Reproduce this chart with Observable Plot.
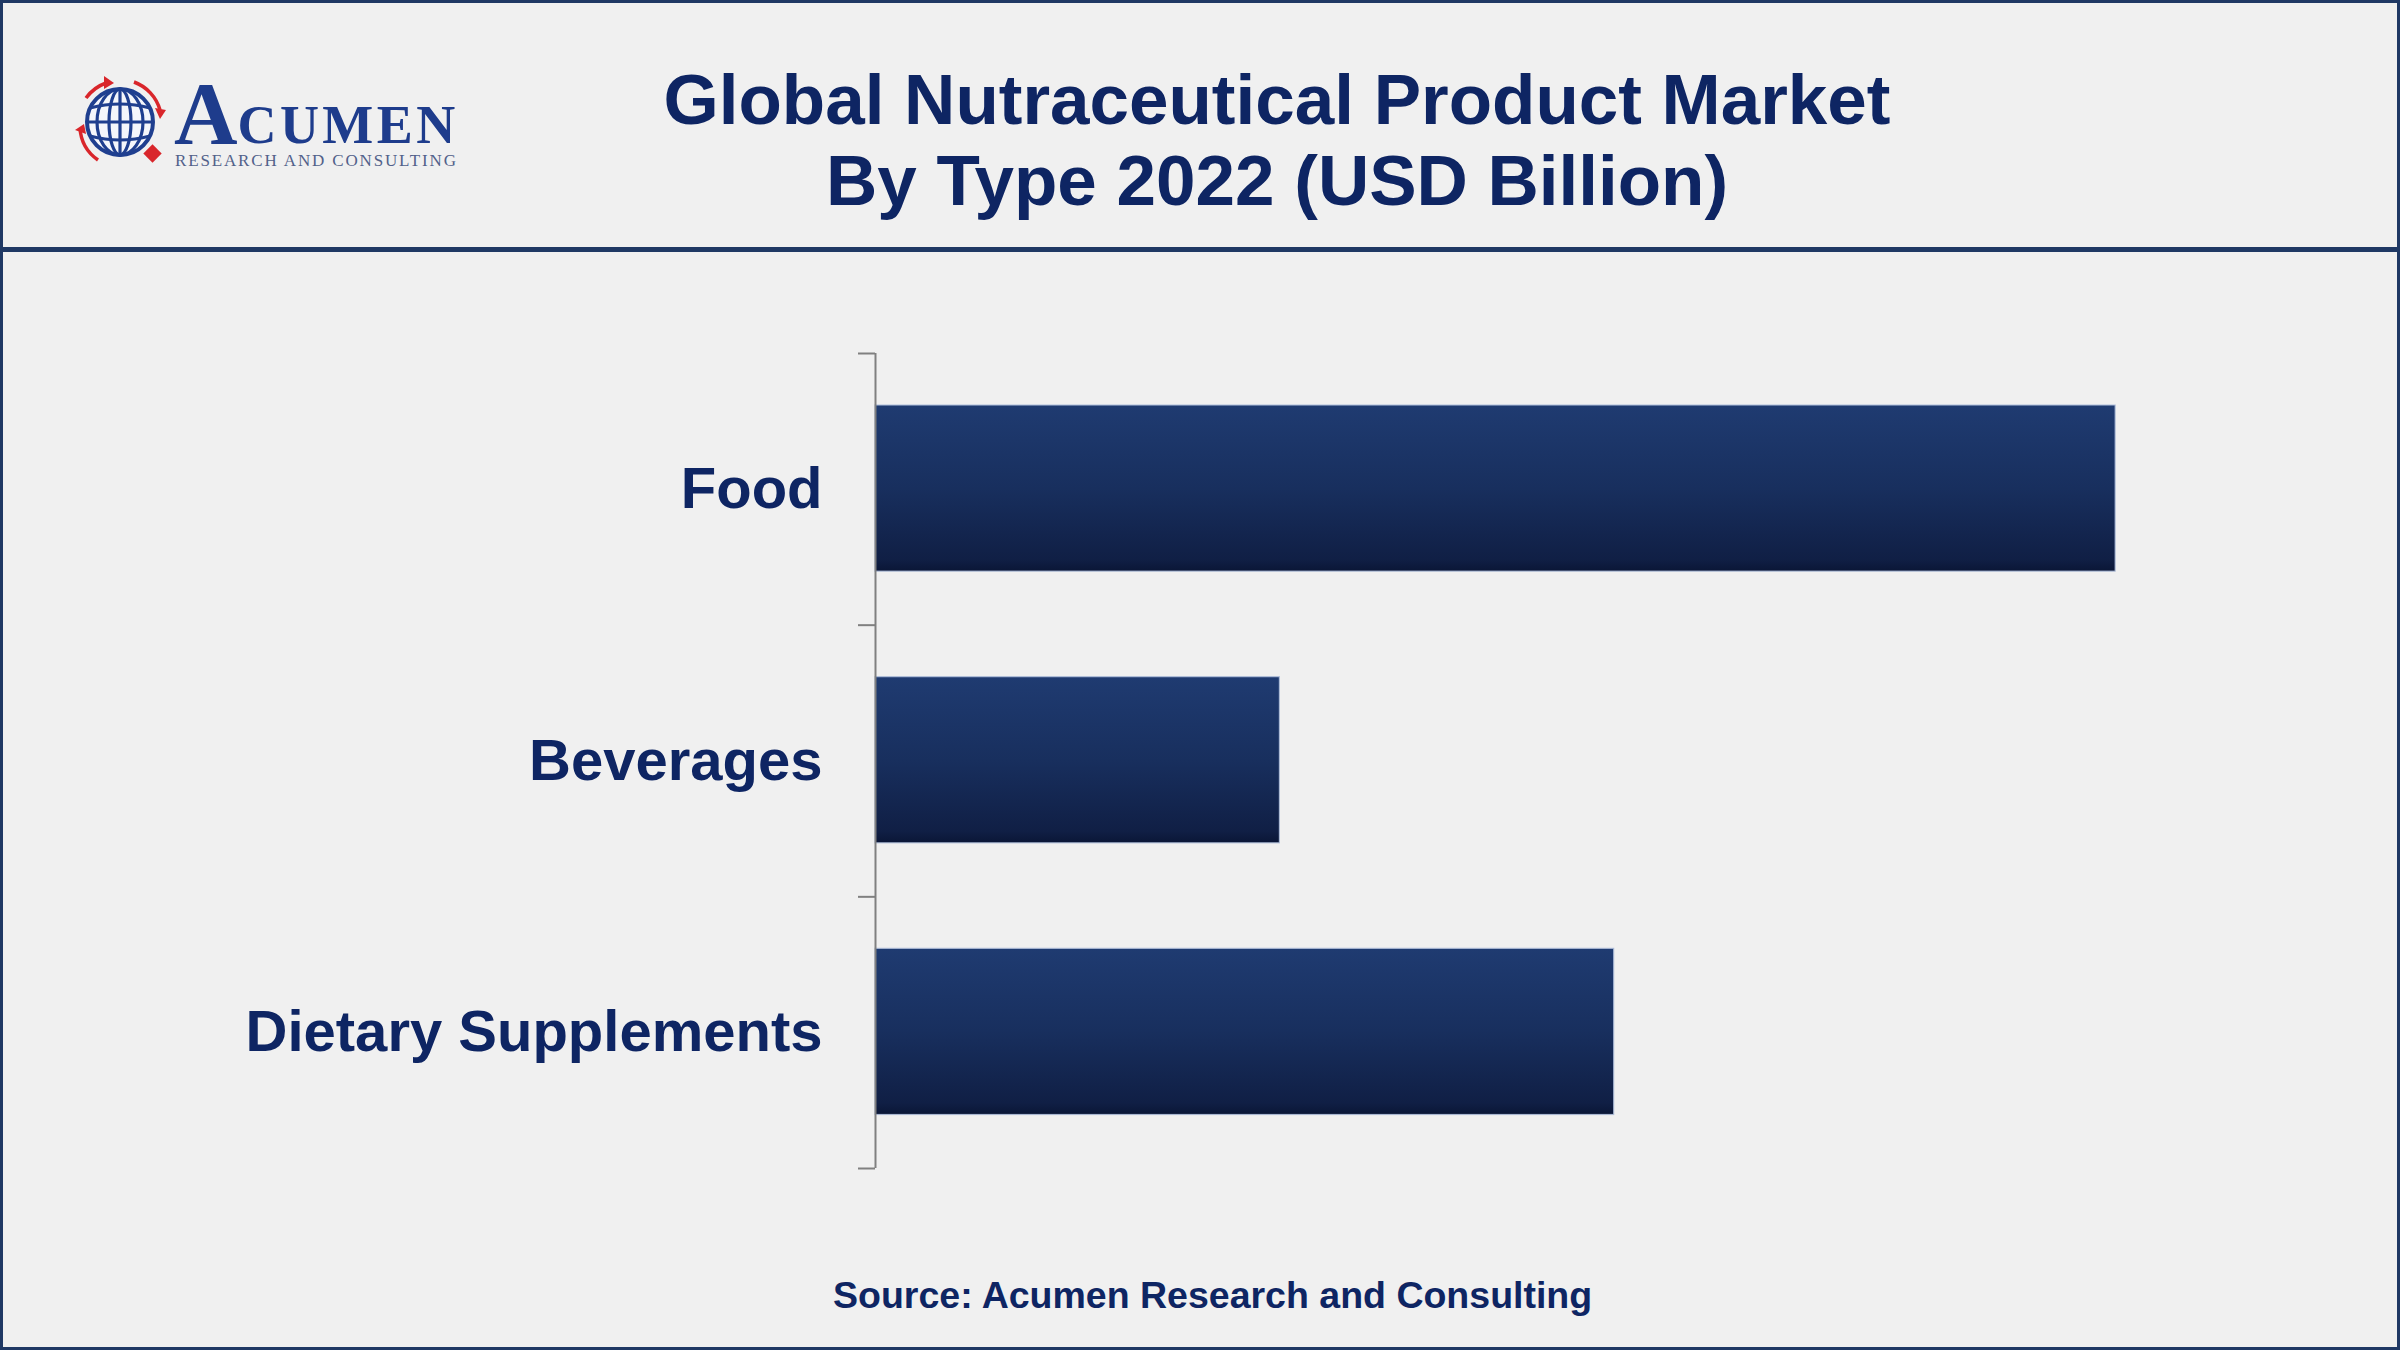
<!DOCTYPE html>
<html>
<head>
<meta charset="utf-8">
<script src="https://cdn.jsdelivr.net/npm/d3@7"></script>
<script src="https://cdn.jsdelivr.net/npm/@observablehq/plot@0.6"></script>
<style>
  html, body { margin: 0; padding: 0; background: #f0f0f0; }
  #page {
    position: relative; width: 2400px; height: 1350px; box-sizing: border-box;
    border: 3px solid #1f3864; background: #f0f0f0; overflow: hidden;
    font-family: "Liberation Sans", Arial, sans-serif;
  }
  #logo { position: absolute; left: -3px; top: -3px; }
  #title {
    position: absolute; left: 574px; top: 56px; width: 1400px; text-align: center;
    font-weight: bold; font-size: 71px; line-height: 81px; color: #0e2563; margin: 0;
  }
  #rule { position: absolute; left: 0; top: 244px; width: 100%; height: 5px; background: #1f3864; }
  #chart { position: absolute; left: 0; top: 250px; }
  #source {
    position: absolute; left: 830px; top: 1274px; white-space: nowrap;
    font-weight: bold; font-size: 37.5px; line-height: 37.5px; color: #0e2563;
  }
</style>
</head>
<body>
<div id="page">
  <svg id="logo" width="520" height="240" xmlns="http://www.w3.org/2000/svg">
    <g fill="none" stroke="#d9262b" stroke-width="3.5">
      <path d="M 86 98 A 42 42 0 0 1 106 83"/>
      <path d="M 134 82 A 42 42 0 0 1 160 110"/>
      <path d="M 98 160 A 42 42 0 0 1 80 128"/>
    </g>
    <g fill="#d9262b">
      <path d="M 104 76 L 114 83 L 104 89 Z"/>
      <path d="M 155 108 L 166 110 L 160 119 Z"/>
      <path d="M 75 130 L 84 124 L 86 134 Z"/>
      <rect x="146" y="147" width="13" height="13" transform="rotate(45 152.5 153.5)"/>
    </g>
    <g fill="none" stroke="#1f3f8f" stroke-width="3.2">
      <circle cx="120" cy="122" r="33" fill="#f4f6fb" stroke-width="4"/>
      <ellipse cx="120" cy="122" rx="11" ry="33"/>
      <ellipse cx="120" cy="122" rx="23" ry="33"/>
      <line x1="120" y1="89" x2="120" y2="155"/>
      <path d="M 90 108 Q 120 100 150 108"/>
      <path d="M 87 122 L 153 122"/>
      <path d="M 90 136 Q 120 144 150 136"/>
    </g>
    <text font-family="'Liberation Serif', 'DejaVu Serif', serif"><tspan x="174" y="143" fill="#1e3c8c" font-weight="bold" font-size="88">A</tspan><tspan fill="#1e3c8c" font-weight="bold" font-size="54" letter-spacing="3.4">CUMEN</tspan><tspan x="175" y="166" fill="#52618a" font-size="17" letter-spacing="1.85">RESEARCH AND CONSULTING</tspan></text>
  </svg>
  <div id="title">Global Nutraceutical Product Market<br>By Type 2022 (USD Billion)</div>
  <div id="rule"></div>
  <div id="chart"></div>
  <div id="source">Source: Acumen Research and Consulting</div>
</div>
<script>
// Data (USD Billion)
const categories = ["Food", "Beverages", "Dietary Supplements"];
const values = [230, 75, 137];
const bandEdges = [0, 1, 2, 3];

const rows = categories.map((c, i) => ({ category: c, value: values[i], i }));

const defs = () => {
  const d = d3.create("svg:defs");
  const g = d.append("linearGradient").attr("id", "barGrad")
    .attr("x1", 0).attr("y1", 0).attr("x2", 0).attr("y2", 1);
  g.append("stop").attr("offset", 0).attr("stop-color", "#1f3b71");
  g.append("stop").attr("offset", 0.5).attr("stop-color", "#182f5e");
  g.append("stop").attr("offset", 0.93).attr("stop-color", "#101f45");
  g.append("stop").attr("offset", 1).attr("stop-color", "#0a1636");
  return d.node();
};

const chart = Plot.plot({
  width: 2394,
  height: 997,
  marginLeft: 872,
  marginRight: 174,
  marginTop: 100,
  marginBottom: 82,
  style: { background: "transparent", fontFamily: "'Liberation Sans', Arial, sans-serif", overflow: "visible" },
  x: { type: "linear", domain: [0, 250], axis: null },
  y: { type: "linear", domain: [0, 3], reverse: true, axis: null },
  marks: [
    defs,
    Plot.rectX(rows, {
      x1: 0, x2: "value", y1: "i", y2: d => d.i + 1,
      insetTop: 52, insetBottom: 53.5,
      fill: "url(#barGrad)", stroke: "#b0bfdc", strokeWidth: 1.2, strokeOpacity: 0.85
    }),
    Plot.ruleX([0], { y1: 0, y2: 3, stroke: "#808080", strokeWidth: 2 }),
    Plot.ruleY(bandEdges, { y: d => d, x1: 0, x2: 0, insetLeft: -17, stroke: "#808080", strokeWidth: 2 }),
    Plot.text(rows, {
      x: 0, y: d => d.i + 0.5, text: "category", textAnchor: "end", dx: -53,
      fontSize: 58, fontWeight: "bold", fill: "#0e2563"
    })
  ]
});
document.getElementById("chart").appendChild(chart);
</script>
</body>
</html>
